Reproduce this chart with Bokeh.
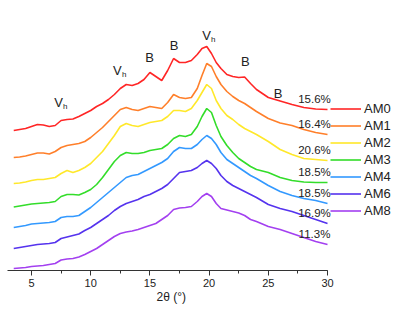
from bokeh.plotting import figure
from bokeh.models import Range1d, Legend, LegendItem, SingleIntervalTicker, ColumnDataSource, Title
from bokeh.core.properties import value
from bokeh.embed import file_html
from bokeh.resources import INLINE

# ---------------- data ----------------
two_theta = [3.5, 4, 4.5, 5, 5.5, 6, 6.5, 7, 7.5, 8, 8.5, 9, 9.5, 10, 10.5, 11, 11.5, 12,
             12.5, 13, 13.5, 14, 14.5, 15, 15.5, 16, 16.5, 17, 17.5, 18, 18.5, 19,
             19.4, 19.8, 20.2, 20.6, 21, 21.5, 22, 22.5, 23, 23.5, 24, 25, 26, 27, 28, 29, 30]

samples = ["AM0", "AM1", "AM2", "AM3", "AM4", "AM6", "AM8"]
crystallinity = ["15.6%", "16.4%", "20.6%", "18.5%", "18.5%", "16.9%", "11.3%"]
offsets = [140, 113, 87, 63.5, 43, 22, 2]

am0 = [0, 1, 2, 4, 6, 5.5, 4, 5, 10, 11, 11.5, 14, 17, 20, 24, 27, 31, 36, 42, 46, 45, 47, 51, 58,
       54, 50, 60, 72, 68, 68, 70, 76, 82, 84, 77, 68, 62, 56, 54, 53, 53.5, 47, 41, 33, 29.5,
       26, 23, 21.5, 21]
am1 = [0, 0.5, 1.5, 3, 4.5, 4.5, 3.5, 6, 10, 12, 13, 14, 16, 20, 25, 30, 36, 42, 48, 50, 48, 47,
       49, 51, 50, 49, 55, 63, 60, 59, 60, 69, 82, 94, 91, 81, 73, 66, 61, 57, 54, 50, 46, 39,
       34.5, 32, 28, 25, 23]
am2 = [0, 0.5, 1.5, 3, 4, 4, 5, 6, 10, 13, 11, 13, 16, 20, 26, 32, 40, 48, 57, 60, 58, 57, 59, 61,
       62, 63, 67, 73, 73, 72, 75, 83, 91, 99, 95, 83, 75, 68, 64, 59, 55, 52, 49, 42, 34, 29,
       25, 24, 23]
am3 = [0, 1, 2, 3, 3.5, 4, 4.5, 5.5, 10.5, 12.5, 12.5, 12, 14.5, 17.5, 22.5, 29.5, 37.5, 45.5,
       51.5, 54.5, 53.5, 53.5, 54.5, 56.5, 57.5, 58.5, 62.5, 68.5, 71.5, 70.5, 72.5, 80.5, 90.5,
       98.5, 94.5, 81.5, 70.5, 61.5, 54.5, 48.5, 44.5, 40.5, 37.5, 34.5, 29.5, 26.5, 25, 24.5, 24.5]
am4 = [0, 1, 2, 3.5, 4, 4.5, 5, 6, 10, 11, 11, 12, 16, 20, 25, 30, 35, 40, 45, 50, 52, 53, 56, 59,
       62, 65, 69, 76, 80, 79, 79, 83, 88, 92, 89, 83, 75, 68, 64, 60, 56, 52, 49, 42, 36, 32,
       29, 27, 24]
am6 = [0, 1, 2, 3, 4, 4.5, 5, 6, 10, 11.5, 13, 14.5, 18, 21, 25, 29, 33, 38, 42, 45, 47, 49, 52,
       54, 57, 60, 64, 70, 76, 77, 78, 81, 85, 88, 85, 80, 73, 67, 63, 60, 57, 54, 51, 44, 40,
       37, 33, 29, 25]
am8 = [0, 0.5, 1, 2, 2.5, 3, 4, 5, 8.5, 9.5, 10, 11.5, 14, 17, 20, 24, 28, 32, 35, 36.5, 37.5, 39,
       41, 43, 45, 49, 53, 59, 60.5, 61, 62, 67, 72, 75, 72, 65, 60, 58.5, 57, 55.5, 53, 49, 47,
       42, 39, 35, 31, 27, 24]
series = [am0, am1, am2, am3, am4, am6, am8]

peak_text = ["V", "V", "B", "B", "V", "B", "B"]
peak_sub = ["h", "h", "", "", "h", "", ""]
peak_x = [7.28, 12.26, 14.97, 17.04, 19.78, 23.05, 25.82]
peak_y = [168, 200.5, 213, 224.7, 235.3, 208.8, 177.2]

colors = ["#ff2626", "#ff7f2a", "#ffe82a", "#33dd2a", "#3399ff", "#5533ee", "#a340f0"]

FONT = "Liberation Sans"
TXT = "#222222"

# ---------------- figure ----------------
p = figure(width=399, height=327, x_range=Range1d(2.382, 36.08), y_range=Range1d(0, 270),
           y_axis_location=None, output_backend="svg", toolbar_location=None,
           min_border_left=0, min_border_right=0, min_border_top=0, min_border_bottom=57)
p.outline_line_color = None
p.grid.visible = False
p.background_fill_color = "white"
p.border_fill_color = "white"

items = []
for name, vals, off, col in zip(samples, series, offsets, colors):
    ys = [v + off for v in vals]
    r = p.line(two_theta, ys, line_color=col, line_width=1.6)
    items.append(LegendItem(label=name, renderers=[r]))

# crystallinity labels above curve ends
lab_src = ColumnDataSource(dict(
    x=[28.9] * len(samples),
    y=[s[-1] + o + 11 for s, o in zip(series, offsets)],
    t=crystallinity))
p.text(x="x", y="y", text="t", source=lab_src, text_align="center", text_baseline="middle",
       text_font=value(FONT), text_font_size="11.5px", text_color=TXT)

# peak labels
pk_src = ColumnDataSource(dict(x=peak_x, y=peak_y, t=peak_text, s=peak_sub))
p.text(x="x", y="y", text="t", source=pk_src, text_align="center", text_baseline="middle",
       text_font=value(FONT), text_font_size="13px", text_color=TXT)
p.text(x="x", y="y", text="s", source=pk_src, text_align="left", text_baseline="middle",
       x_offset=4.5, y_offset=4, text_font=value(FONT), text_font_size="8px", text_color=TXT)

legend = Legend(items=items, location=(330, 51), glyph_width=31, glyph_height=17,
                label_height=17, spacing=0, padding=0, margin=0, label_standoff=3,
                border_line_color=None, background_fill_alpha=0,
                label_text_font=FONT, label_text_font_size="13px", label_text_color=TXT)
p.add_layout(legend)

ax = p.xaxis[0]
ax.ticker = SingleIntervalTicker(interval=5, num_minor_ticks=2)
ax.bounds = (3, 30)
ax.axis_line_color = "#333333"
ax.axis_line_width = 1
ax.major_tick_line_color = "#333333"
ax.minor_tick_line_color = "#333333"
ax.major_tick_in = 0
ax.major_tick_out = 5
ax.minor_tick_in = 0
ax.minor_tick_out = 3
ax.major_label_standoff = 3
ax.major_label_text_font = FONT
ax.major_label_text_font_size = "11px"
ax.major_label_text_color = TXT

# axis title, placed under the scale as in the reference
p.add_layout(Title(text="2θ (°)", align="left", offset=156, standoff=0,
                   vertical_align="top", text_font=FONT, text_font_size="12px",
                   text_font_style="normal", text_color=TXT), "below")

open("out.html", "w").write(file_html(p, INLINE))
